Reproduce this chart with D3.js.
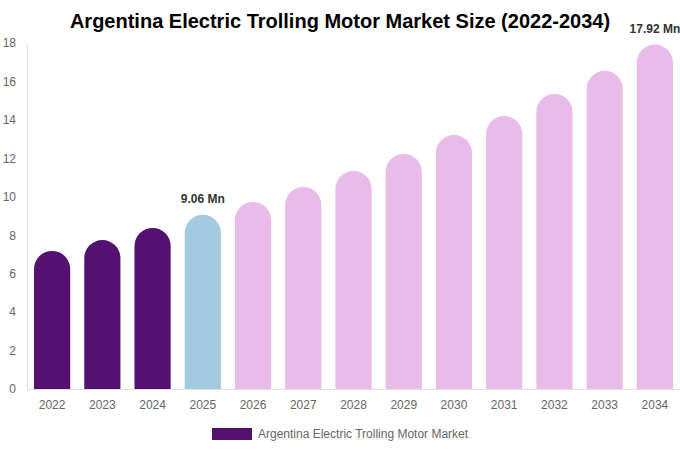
<!DOCTYPE html>
<html>
<head>
<meta charset="utf-8">
<script src="https://cdn.jsdelivr.net/npm/d3@7.9.0/dist/d3.min.js"></script>
<style>
  body { margin: 0; background: #fff; }
  svg { font-family: "Liberation Sans", Arial, sans-serif; }
</style>
</head>
<body>
<svg id="chart"></svg>
<script>
// Chart data
const years = ['2022', '2023', '2024', '2025', '2026', '2027', '2028', '2029', '2030', '2031', '2032', '2033', '2034'];
const values = [7.18, 7.75, 8.38, 9.06, 9.73, 10.51, 11.34, 12.23, 13.21, 14.2, 15.35, 16.55, 17.92];
const yTicks = [0, 2, 4, 6, 8, 10, 12, 14, 16, 18];
const labelled = { '2025': '9.06 Mn', '2034': '17.92 Mn' };

const width = 680;
const height = 450;
const margin = { top: 43, right: 0, bottom: 61, left: 27 };

const svg = d3.select('#chart')
  .attr('width', width)
  .attr('height', height)
  .attr('viewBox', [0, 0, width, height]);

const xScale = d3.scaleBand()
  .domain(years)
  .range([margin.left, width - margin.right])
  .paddingInner(0.28)
  .paddingOuter(0.14);

const yScale = d3.scaleLinear()
  .domain([0, 18])
  .range([height - margin.bottom, margin.top]);

// colour by period: history, base year, forecast
function barColor(year) {
  if (+year < 2025) return '#541170';
  if (+year === 2025) return '#a3cadf';
  return '#e8bbe8';
}

// title
svg.append('text')
  .attr('x', 340)
  .attr('y', 28)
  .attr('text-anchor', 'middle')
  .attr('font-size', 20)
  .attr('font-weight', 'bold')
  .attr('fill', '#000')
  .text('Argentina Electric Trolling Motor Market Size (2022-2034)');

// y axis
const yAxis = svg.append('g')
  .attr('transform', `translate(${margin.left},0)`)
  .call(d3.axisLeft(yScale).tickValues(yTicks).tickSize(0).tickPadding(11));
yAxis.select('.domain').attr('stroke', '#e0e0e0');
yAxis.selectAll('text').attr('fill', '#666').attr('font-size', 12)
  .attr('font-family', '"Liberation Sans", Arial, sans-serif');

// rounded top bars
const r = xScale.bandwidth() / 2;
svg.append('g')
  .selectAll('path')
  .data(years)
  .join('path')
  .attr('fill', (d) => barColor(d))
  .attr('d', (d, i) => {
    const x0 = xScale(d);
    const x1 = x0 + xScale.bandwidth();
    const yTop = yScale(values[i]);
    const yBot = yScale(0);
    return `M${x0},${yBot} L${x0},${yTop + r} A${r},${r} 0 0 1 ${x1},${yTop + r} L${x1},${yBot} Z`;
  });

// x axis
const xAxis = svg.append('g')
  .attr('transform', `translate(0,${yScale(0)})`)
  .call(d3.axisBottom(xScale).tickSize(0).tickPadding(11));
xAxis.select('.domain').attr('stroke', '#e0e0e0');
xAxis.selectAll('text').attr('fill', '#666').attr('font-size', 12)
  .attr('font-family', '"Liberation Sans", Arial, sans-serif');

// value labels
svg.append('g')
  .selectAll('text')
  .data(years.filter((d) => labelled[d]))
  .join('text')
  .attr('x', (d) => xScale(d) + xScale.bandwidth() / 2)
  .attr('y', (d) => yScale(values[years.indexOf(d)]) - 12)
  .attr('text-anchor', 'middle')
  .attr('font-size', 12)
  .attr('font-weight', 'bold')
  .attr('fill', '#333')
  .text((d) => labelled[d]);

// legend
const legend = svg.append('g').attr('transform', 'translate(212,428)');
legend.append('rect')
  .attr('width', 40)
  .attr('height', 12)
  .attr('fill', '#541170');
legend.append('text')
  .attr('x', 46)
  .attr('y', 10)
  .attr('font-size', 12)
  .attr('fill', '#666')
  .text('Argentina Electric Trolling Motor Market');
</script>
</body>
</html>
